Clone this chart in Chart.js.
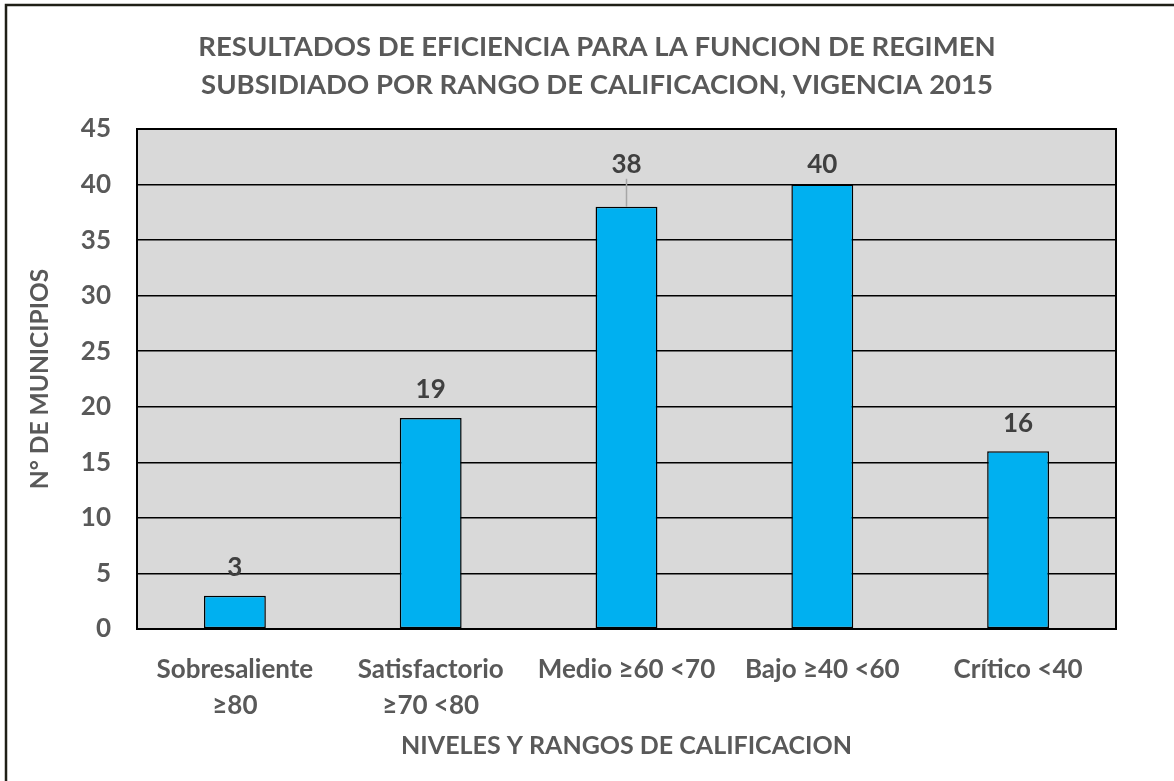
<!DOCTYPE html>
<html>
<head>
<meta charset="utf-8">
<script src="https://cdn.jsdelivr.net/npm/chart.js@4"></script>
<style>
  html, body { margin: 0; padding: 0; background: #fff; }
  #wrap { width: 1174px; height: 781px; }
</style>
</head>
<body>
<div id="wrap"><canvas id="myChart" width="1174" height="781"></canvas></div>
<script>
let categories = [['Sobresaliente', '≥80'], ['Satisfactorio', '≥70 <80'], 'Medio ≥60 <70', 'Bajo ≥40 <60', 'Crítico <40'];
let municipios = [3, 19, 38, 40, 16];
let titleLines = ['RESULTADOS DE EFICIENCIA PARA LA FUNCION DE REGIMEN', 'SUBSIDIADO POR RANGO DE CALIFICACION, VIGENCIA 2015'];

const FONT = "Lato, 'Open Sans', sans-serif";
const GREY = '#595959';

// background, frame, title and value labels
const decor = {
    id: 'decor',
    beforeDraw(chart) {
        const {ctx, chartArea: a} = chart;
        ctx.save();
        ctx.fillStyle = '#d9d9d9';
        ctx.fillRect(a.left, a.top, a.right - a.left, a.bottom - a.top);
        ctx.restore();
    },
    afterDraw(chart) {
        const {ctx, chartArea: a} = chart;
        ctx.save();
        // outer frame (top and left edges visible)
        ctx.strokeStyle = '#1f1f17';
        ctx.lineWidth = 2.5;
        ctx.beginPath();
        ctx.moveTo(6, 781);
        ctx.lineTo(6, 5);
        ctx.lineTo(1174, 5);
        ctx.stroke();
        // plot frame
        ctx.strokeStyle = '#000';
        ctx.lineWidth = 2;
        ctx.strokeRect(a.left, a.top, a.right - a.left, a.bottom - a.top);
        // title
        ctx.fillStyle = GREY;
        ctx.font = 'bold 27.5px ' + FONT;
        ctx.textAlign = 'center';
        ctx.textBaseline = 'middle';
        ctx.fillText(titleLines[0], 597, 47);
        ctx.fillText(titleLines[1], 597, 85);
        // value labels
        const shift = [29, 29, 43, 21, 29];
        const meta = chart.getDatasetMeta(0);
        ctx.font = 'bold 26px ' + FONT;
        meta.data.forEach((bar, i) => {
            const y = bar.y - shift[i];
            if (shift[i] > 35) {
                ctx.strokeStyle = '#a6a6a6';
                ctx.lineWidth = 1.5;
                ctx.beginPath();
                ctx.moveTo(bar.x, y + 15);
                ctx.lineTo(bar.x, bar.y);
                ctx.stroke();
            }
            ctx.fillStyle = '#404040';
            ctx.fillText(String(municipios[i]), bar.x, y + 1);
        });
        ctx.restore();
    }
};

new Chart(document.getElementById('myChart').getContext('2d'), {
    type: 'bar',
    data: {
        labels: categories,
        datasets: [{
            data: municipios,
            backgroundColor: '#00b0f0',
            borderColor: '#000',
            borderWidth: 1.5,
            borderSkipped: false,
            barPercentage: 0.316,
            categoryPercentage: 1
        }]
    },
    options: {
        responsive: false,
        animation: false,
        layout: { padding: { top: 129, left: 8, right: 58, bottom: 8 } },
        plugins: {
            legend: { display: false },
            title: { display: false },
            tooltip: { enabled: false }
        },
        scales: {
            x: {
                afterFit(scale) { scale.height = 144; },
                grid: { display: false, drawTicks: false },
                border: { color: '#000', width: 2 },
                ticks: {
                    color: GREY,
                    padding: 22,
                    maxRotation: 0,
                    font: { family: FONT, size: 26, weight: 'bold', lineHeight: 1.4 }
                },
                title: {
                    display: true,
                    text: 'NIVELES Y RANGOS DE CALIFICACION',
                    color: GREY,
                    padding: { top: 0, bottom: 12 },
                    font: { family: FONT, size: 25, weight: 'bold' }
                }
            },
            y: {
                min: 0,
                max: 45,
                afterFit(scale) { scale.width = 129; },
                grid: { color: '#000', lineWidth: 1.5, drawTicks: false },
                border: { color: '#000', width: 2 },
                ticks: {
                    stepSize: 5,
                    color: GREY,
                    padding: 26,
                    font: { family: FONT, size: 26, weight: 'bold' }
                },
                title: {
                    display: true,
                    text: 'N° DE MUNICIPIOS',
                    color: GREY,
                    padding: { top: 17, bottom: 0 },
                    font: { family: FONT, size: 24.5, weight: 'bold' }
                }
            }
        }
    },
    plugins: [decor]
});
</script>
</body>
</html>
